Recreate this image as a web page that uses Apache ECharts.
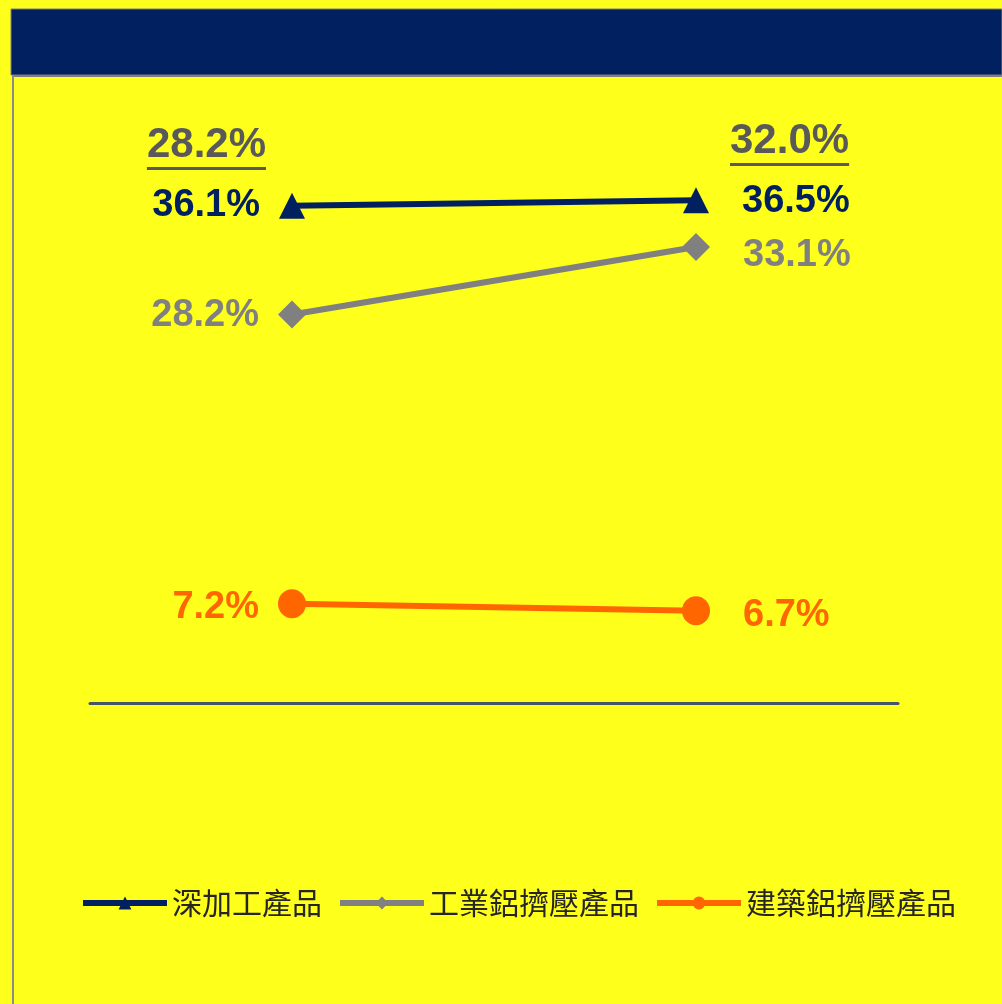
<!DOCTYPE html>
<html>
<head>
<meta charset="utf-8">
<script src="https://cdn.jsdelivr.net/npm/echarts@6/dist/echarts.min.js"></script>
<style>
    html, body { margin: 0; padding: 0; background: #FFFF1C; }
    #main { width: 1002px; height: 1004px; }
</style>
</head>
<body>
<div id="main"></div>
<script>
    'use strict';

    var categories = ['上期', '本期'];
    var seriesNames = ['深加工產品', '工業鋁擠壓產品', '建築鋁擠壓產品'];
    var deepProcessing = [36.1, 36.5];
    var industrialExtrusion = [28.2, 33.1];
    var constructionExtrusion = [7.2, 6.7];
    var overallMargin = [28.2, 32.0];

    var NAVY = '#002060';
    var GREY = '#808080';
    var ORANGE = '#FF6600';
    var DARK_GREY = '#595959';
    var LABEL_FONT = 'Liberation Sans, Arial, sans-serif';

    function pct(v) {
        return v.toFixed(1) + '%';
    }

    // first point label on the left, second on the right
    function buildData(values, offsets) {
        return values.map(function (v, i) {
            return {
                value: v,
                label: {
                    position: i === 0 ? 'left' : 'right',
                    distance: i === 0 ? 19 : 33,
                    offset: offsets[i]
                }
            };
        });
    }

    function lineSeries(name, values, color, symbol, size, offsets) {
        return {
            name: name,
            type: 'line',
            data: buildData(values, offsets),
            symbol: symbol,
            symbolSize: size,
            showAllSymbol: true,
            lineStyle: { width: 6, color: color },
            itemStyle: { color: color },
            label: {
                show: true,
                color: color,
                fontFamily: LABEL_FONT,
                fontWeight: 'bold',
                fontSize: 38,
                formatter: function (p) { return pct(p.value); }
            },
            emphasis: { disabled: true }
        };
    }

    var chart = echarts.init(document.getElementById('main'));

    chart.setOption({
        animation: false,
        backgroundColor: '#FFFF1C',
        grid: { left: 90, right: 104, top: 152, bottom: 301 },
        xAxis: {
            type: 'category',
            data: categories,
            boundaryGap: true,
            axisLine: { lineStyle: { color: '#48536A', width: 3 } },
            axisTick: { show: false },
            axisLabel: { show: false }
        },
        yAxis: {
            type: 'value',
            min: 0,
            max: 40,
            show: false
        },
        legend: {
            data: seriesNames,
            left: 80,
            top: 888,
            padding: 0,
            itemWidth: 84,
            itemHeight: 16,
            itemGap: 15,
            lineStyle: { width: 6 },
            textStyle: {
                fontFamily: '"Noto Sans CJK TC"',
                fontSize: 30,
                color: '#262626'
            }
        },
        series: [
            lineSeries(seriesNames[0], deepProcessing, NAVY, 'triangle', [26, 26], [[0, 0], [0, 1]]),
            lineSeries(seriesNames[1], industrialExtrusion, GREY, 'diamond', [28, 28], [[0, 1], [0, 8]]),
            lineSeries(seriesNames[2], constructionExtrusion, ORANGE, 'circle', [28, 29], [[0, 4], [0, 5]])
        ]
    });

    // header band, frame lines and the underlined overall margins
    var ctx = document.createElement('canvas').getContext('2d');
    var marginFont = 'bold 42px ' + LABEL_FONT;
    ctx.font = marginFont;

    var graphics = [
        { type: 'rect', shape: { x: 11, y: 9, width: 991, height: 66 },
          style: { fill: NAVY, stroke: '#7F7F7F', lineWidth: 1 } },
        { type: 'rect', shape: { x: 12, y: 75, width: 990, height: 2 }, style: { fill: '#7F7F7F' } },
        { type: 'rect', shape: { x: 12, y: 75, width: 2, height: 929 }, style: { fill: '#8C8C8C' } }
    ];

    var marginY = [145, 141];
    overallMargin.forEach(function (v, i) {
        var text = pct(v);
        var w = ctx.measureText(text).width;
        var px = chart.convertToPixel({ xAxisIndex: 0 }, categories[i]);
        var left = i === 0 ? 266 - w : px + 34;
        graphics.push({
            type: 'text',
            style: {
                text: text,
                x: left,
                y: marginY[i],
                fill: DARK_GREY,
                font: marginFont,
                align: 'left',
                verticalAlign: 'middle'
            }
        });
        graphics.push({
            type: 'rect',
            shape: { x: left, y: marginY[i] + 22, width: w, height: 3 },
            style: { fill: DARK_GREY }
        });
    });

    chart.setOption({ graphic: graphics });
</script>
</body>
</html>
